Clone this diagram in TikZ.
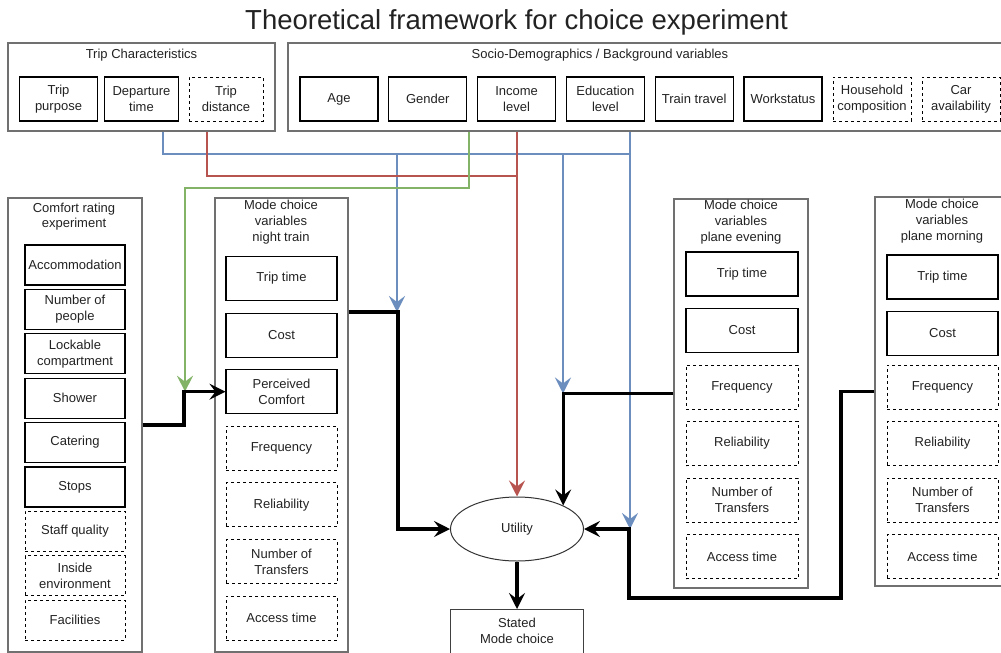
\documentclass[tikz,border=0pt]{standalone}
\usepackage{fontspec}
\setmainfont{Liberation Sans}
\usetikzlibrary{arrows.meta,shapes.geometric}
\definecolor{blueedge}{HTML}{6C8EBF}
\definecolor{rededge}{HTML}{B85450}
\definecolor{greenedge}{HTML}{82B366}
\definecolor{groupgray}{HTML}{707070}
\definecolor{inkgray}{HTML}{222222}
\begin{document}
\begin{tikzpicture}[x=1pt,y=-1pt,
  font=\fontsize{13}{16}\selectfont,text=inkgray,
  var/.style={draw=black,line width=1.1pt,align=center,inner sep=0pt,minimum height=44pt},
  optvar/.style={var,line width=1pt,dash pattern=on 3pt off 3pt},
  groupbox/.style={draw=groupgray,line width=1.3pt,inner sep=0pt},
  tip/.style={-{Stealth[length=16pt,width=16pt,inset=6pt]}},
  link/.style={line width=3.2pt},
  blueline/.style={line width=2.8pt,draw=blueedge},
  redline/.style={line width=2.8pt,draw=rededge},
  greenline/.style={line width=2.8pt,draw=greenedge}]

\useasboundingbox (0,0) rectangle (1001,653);

\node[font=\fontsize{27.5}{33}\selectfont] (title) at (516.5,22) {Theoretical framework for choice experiment};

% trip characteristics
\node[groupbox,minimum width=267pt,minimum height=88pt] (tc) at (141.5,87) {};
\node (tclabel) at (141.5,55) {Trip Characteristics};
\node[var,minimum width=78pt] (purpose) at (58.5,99) {Trip\\purpose};
\node[var,minimum width=74pt] (departure) at (141.5,99) {Departure\\time};
\node[optvar,minimum width=74pt] (distance) at (226,99) {Trip\\distance};

% socio-demographics
\node[groupbox,minimum width=722pt,minimum height=88pt] (sd) at (649,87) {};
\node (sdlabel) at (600,55) {Socio-Demographics / Background variables};
\foreach \txt [count=\i from 0] in {Age, Gender, Income\\level, Education\\level, Train travel, Workstatus}
    \node[var,minimum width=78pt] (sd\i) at (339+88.8*\i,99) {\txt};
\node[optvar,minimum width=78pt] (sd6) at (872,99) {Household\\composition};
\node[optvar,minimum width=78pt] (sd7) at (961,99) {Car\\availability};

% comfort rating
\node[groupbox,minimum width=134pt,minimum height=454pt] (cr) at (75,425) {};
\node[align=center,font=\fontsize{13}{15}\selectfont] (crlabel) at (74,217) {Comfort rating\\experiment};
\foreach \txt [count=\i from 0] in {Accommodation, Number of\\people, Lockable\\compartment, Shower, Catering, Stops}
    \node[var,minimum width=100pt,minimum height=40pt] (cr\i) at (75,265+44.4*\i) {\txt};
\foreach \txt [count=\i from 6] in {Staff quality, Inside\\environment, Facilities}
    \node[optvar,minimum width=100pt,minimum height=40pt] (cr\i) at (75,265+44.4*\i) {\txt};

% night train
\node[groupbox,minimum width=133pt,minimum height=454pt] (nt) at (281.5,425) {};
\node[align=center] (ntlabel) at (281,222) {Mode choice\\variables\\night train};
\foreach \txt [count=\i from 0] in {Trip time, Cost, Perceived\\Comfort}
    \node[var,minimum width=111pt] (nt\i) at (281.5,278.5+56.6*\i) {\txt};
\foreach \txt [count=\i from 3] in {Frequency, Reliability, Number of\\Transfers, Access time}
    \node[optvar,minimum width=111pt] (nt\i) at (281.5,278.5+56.6*\i) {\txt};

% plane evening
\node[groupbox,minimum width=134pt,minimum height=389pt] (pe) at (741,393.5) {};
\node[align=center] (pelabel) at (741,222) {Mode choice\\variables\\plane evening};
\foreach \txt [count=\i from 0] in {Trip time, Cost}
    \node[var,minimum width=112pt] (pe\i) at (742,274+56.5*\i) {\txt};
\foreach \txt [count=\i from 2] in {Frequency, Reliability, Number of\\Transfers, Access time}
    \node[optvar,minimum width=112pt] (pe\i) at (742,274+56.5*\i) {\txt};

% plane morning
\node[groupbox,minimum width=135pt,minimum height=389pt] (pm) at (942.5,391.5) {};
\node[align=center] (pmlabel) at (942,221) {Mode choice\\variables\\plane morning};
\foreach \txt [count=\i from 0] in {Trip time, Cost}
    \node[var,minimum width=111pt] (pm\i) at (942.5,277+56.5*\i) {\txt};
\foreach \txt [count=\i from 2] in {Frequency, Reliability, Number of\\Transfers, Access time}
    \node[optvar,minimum width=111pt] (pm\i) at (942.5,274+56.5*\i) {\txt};

% utility and choice
\node[draw=black!80,ellipse,line width=1pt,minimum width=133pt,minimum height=64pt,inner sep=0pt] (utility) at (517,529) {Utility};
\node[var,draw=black!75,line width=1pt,anchor=north,minimum width=133pt,inner ysep=9pt,text depth=20pt] (sm) at (517,609) {Stated\\Mode choice};

\coordinate (ntout) at (nt.east |- 0,312);
\coordinate (bluebus) at (0,154);
\coordinate (redbus) at (0,176);
\coordinate (greenbus) at (0,188);
\coordinate (detour) at (841,598);

% coloured influences
\draw[blueline] (163,0 |- tc.south) |- (bluebus -| 630,0);
\draw[blueline,tip] (bluebus -| 397,0) -- (ntout -| 397,0);
\draw[blueline,tip] (bluebus -| 563,0) -- (pe.west -| 563,0);
\draw[blueline,tip] (630,0 |- sd.south) -- (utility.east -| 630,0);
\draw[redline] (207,0 |- tc.south) |- (redbus -| utility.north);
\draw[redline,tip] (sd.south -| utility.north) -- (utility.north);
\draw[greenline,tip] (469,0 |- sd.south) |- (greenbus -| 185,0) -- (nt2.west -| 185,0);

% main links
\draw[link,tip] (cr.east) -- (cr.east -| 184,0) |- (nt2.west);
\draw[link,tip] (ntout) -- (ntout -| 398,0) |- (utility.west);
\draw[link,tip] (pe.west) -| (utility.27);
\draw[link,tip] (pm.west) -| (detour) -| (utility.east -| 629,0) -- (utility.east);
\draw[link,tip] (utility.south) -- (sm.north);

\end{tikzpicture}
\end{document}
